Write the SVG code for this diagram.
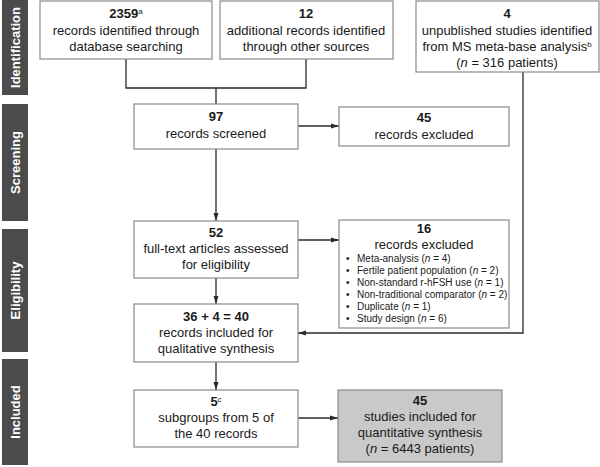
<svg xmlns="http://www.w3.org/2000/svg" width="600" height="467" viewBox="0 0 600 467">
<style>
text{font-family:"Liberation Sans",Arial,sans-serif;fill:#1a1a1a;}
.box{fill:#fff;stroke:#8a8a8a;stroke-width:1.2;}
.gray{fill:#c9c9c9;stroke:#8a8a8a;stroke-width:1.2;}
.t{font-size:13px;text-anchor:middle;}
.b{font-weight:bold;}
.s{font-size:10px;}
.bar{fill:#4b4b4b;}
.bl{font-size:13px;font-weight:bold;fill:#fff;text-anchor:middle;}
.c{fill:none;stroke:#2a2a2a;stroke-width:1.3;}
.sup{font-size:8px;}
</style>
<defs>
<marker id="ah" markerWidth="8" markerHeight="6" refX="8" refY="3" orient="auto" markerUnits="userSpaceOnUse">
<path d="M0,0.5 L8,3 L0,5.5 Z" fill="#2a2a2a"/>
</marker>
</defs>
<g id="stages">
<g id="stage-identification"><rect class="bar" x="2" y="0" width="26" height="95"/><text class="bl" transform="translate(19.5,47.5) rotate(-90)">Identification</text></g>
<g id="stage-screening"><rect class="bar" x="2" y="104" width="26" height="117"/><text class="bl" transform="translate(19.5,162.5) rotate(-90)">Screening</text></g>
<g id="stage-eligibility"><rect class="bar" x="2" y="229" width="26" height="123"/><text class="bl" transform="translate(19.5,290.5) rotate(-90)">Eligibility</text></g>
<g id="stage-included"><rect class="bar" x="2" y="359" width="26" height="106"/><text class="bl" transform="translate(19.5,412) rotate(-90)">Included</text></g>
</g>
<g id="connectors">
<path class="c" d="M126,59 V88 H306 V59"/>
<path class="c" d="M216,88 V104"/>
<path class="c" d="M216,149 V221" marker-end="url(#ah)"/>
<path class="c" d="M298,126 H339" marker-end="url(#ah)"/>
<path class="c" d="M298,240 H339" marker-end="url(#ah)"/>
<path class="c" d="M216,278 V304" marker-end="url(#ah)"/>
<path class="c" d="M523,72 V333 H298" marker-end="url(#ah)"/>
<path class="c" d="M216,362 V390" marker-end="url(#ah)"/>
<path class="c" d="M298,418 H338" marker-end="url(#ah)"/>
</g>
<g id="n-2359">
<rect class="box" x="40" y="1" width="172" height="58"/>
<text class="t" x="126" y="18"><tspan class="b">2359</tspan><tspan class="sup" dy="-4">a</tspan></text>
<text class="t" x="126" y="35">records identified through</text>
<text class="t" x="126" y="51">database searching</text>
</g>
<g id="n-12">
<rect class="box" x="220" y="1" width="173" height="58"/>
<text class="t b" x="306" y="18">12</text>
<text class="t" x="306" y="35">additional records identified</text>
<text class="t" x="306" y="51">through other sources</text>
</g>
<g id="n-4">
<rect class="box" x="416" y="1" width="183" height="71"/>
<text class="t b" x="507" y="18">4</text>
<text class="t" x="507" y="35">unpublished studies identified</text>
<text class="t" x="507" y="51">from MS meta-base analysis<tspan class="sup" dy="-4">b</tspan></text>
<text class="t" x="507" y="67">(<tspan font-style="italic">n</tspan> = 316 patients)</text>
</g>
<g id="n-97">
<rect class="box" x="134" y="104" width="164" height="45"/>
<text class="t b" x="216" y="121">97</text>
<text class="t" x="216" y="138">records screened</text>
</g>
<g id="n-45ex">
<rect class="box" x="339" y="107" width="170" height="39"/>
<text class="t b" x="424" y="122">45</text>
<text class="t" x="424" y="139">records excluded</text>
</g>
<g id="n-52">
<rect class="box" x="134" y="221" width="164" height="57"/>
<text class="t b" x="216" y="237">52</text>
<text class="t" x="216" y="253">full-text articles assessed</text>
<text class="t" x="216" y="269">for eligibility</text>
</g>
<g id="n-16">
<rect class="box" x="339" y="220" width="170" height="108"/>
<text class="t b" x="424" y="233">16</text>
<text class="t" x="424" y="249">records excluded</text>
<g class="s">
<text x="346" y="262">•</text><text x="357" y="262">Meta-analysis (<tspan font-style="italic">n</tspan> = 4)</text>
<text x="346" y="274">•</text><text x="357" y="274">Fertile patient population (<tspan font-style="italic">n</tspan> = 2)</text>
<text x="346" y="286">•</text><text x="357" y="286">Non-standard r-hFSH use (<tspan font-style="italic">n</tspan> = 1)</text>
<text x="346" y="298">•</text><text x="357" y="298">Non-traditional comparator (<tspan font-style="italic">n</tspan> = 2)</text>
<text x="346" y="310">•</text><text x="357" y="310">Duplicate (<tspan font-style="italic">n</tspan> = 1)</text>
<text x="346" y="322">•</text><text x="357" y="322">Study design (<tspan font-style="italic">n</tspan> = 6)</text>
</g>
</g>
<g id="n-40">
<rect class="box" x="134" y="304" width="164" height="58"/>
<text class="t b" x="216" y="321">36 + 4 = 40</text>
<text class="t" x="216" y="337">records included for</text>
<text class="t" x="216" y="353">qualitative synthesis</text>
</g>
<g id="n-5">
<rect class="box" x="134" y="390" width="164" height="57"/>
<text class="t" x="216" y="406"><tspan class="b">5</tspan><tspan class="sup" dy="-4">c</tspan></text>
<text class="t" x="216" y="422">subgroups from 5 of</text>
<text class="t" x="216" y="438">the 40 records</text>
</g>
<g id="n-45in">
<rect class="gray" x="338" y="390" width="164" height="72"/>
<text class="t b" x="420" y="405">45</text>
<text class="t" x="420" y="421">studies included for</text>
<text class="t" x="420" y="437">quantitative synthesis</text>
<text class="t" x="420" y="453">(<tspan font-style="italic">n</tspan> = 6443 patients)</text>
</g>
</svg>
